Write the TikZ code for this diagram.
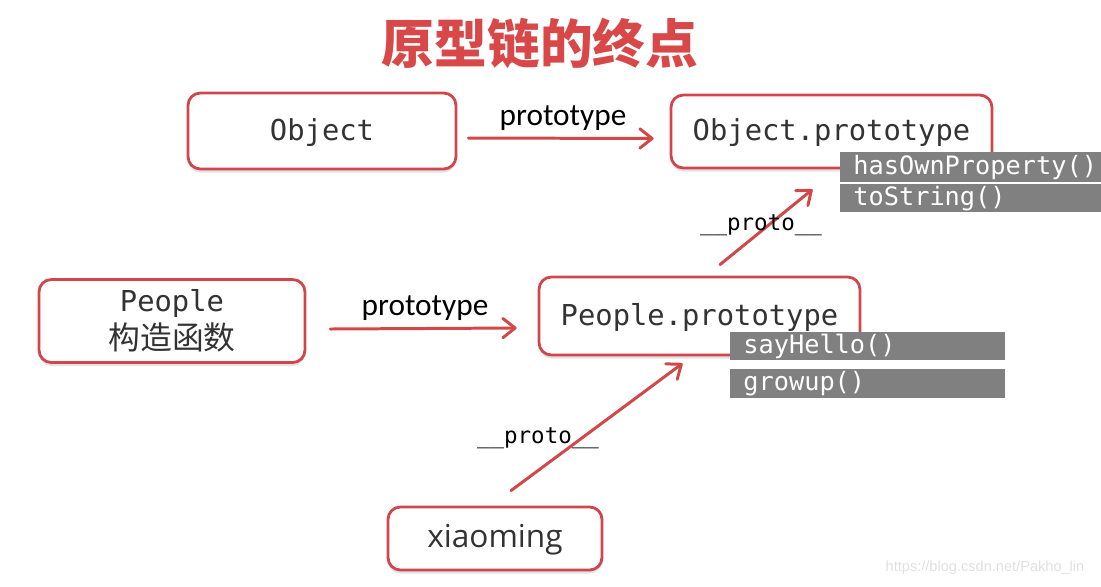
\documentclass[tikz,border=0pt]{standalone}
\usepackage{fontspec}
\setmainfont{Open Sans}
\newfontfamily\monofont{DejaVu Sans Mono}
\newfontfamily\cjkfont{Noto Sans CJK SC}
\newfontfamily\labfont{Carlito}
\newfontfamily\wmfont{Liberation Sans}
\usetikzlibrary{positioning, calc, arrows.meta, shadows}
\definecolor{boxred}{RGB}{208,70,76}
\definecolor{arrred}{RGB}{210,72,72}
\definecolor{titlered}{RGB}{217,72,72}
\definecolor{bargray}{RGB}{128,128,128}
\definecolor{txtgray}{RGB}{51,51,51}

\begin{document}
\begin{tikzpicture}[x=0.02cm, y=-0.02cm,
    box/.style={draw=boxred, line width=1.6pt, rounded corners=7pt, fill=white,
        drop shadow={opacity=0.22, shadow xshift=0pt, shadow yshift=-2pt},
        text=txtgray, align=center, font=\monofont\fontsize{16.4}{21.5}\selectfont},
    oneline/.style={text height=1.3em, text depth=0.25em},
    bar/.style={fill=bargray, text=white, anchor=north west, inner xsep=0.26cm, inner ysep=0pt,
        align=left, font=\monofont\fontsize{14.4}{16}\selectfont},
    arr/.style={draw=arrred, line width=1.7pt, line cap=round,
        -{Straight Barb[length=7pt, width=11pt, line cap=round, line join=round]}},
    lbl/.style={font=\labfont\fontsize{17.8}{20}\selectfont},
    plbl/.style={font=\monofont\fontsize{12.8}{14}\selectfont}]
    \useasboundingbox (0,0) rectangle (1101,586);

    \node[text=titlered, font=\cjkfont\bfseries\fontsize{30}{34}\selectfont] (title) at (540,43) {原型链的终点};

    \node[box, oneline, minimum width=5.36cm, minimum height=1.52cm] (obj) at (322,131) {Object};
    \node[box, oneline, minimum width=6.42cm, minimum height=1.46cm] (objp) at (831.5,131.5) {Object.prototype};
    \node[box, minimum width=5.32cm, minimum height=1.66cm] (ppl) at (172,321) {People\\{\cjkfont\fontsize{18.1}{21.5}\selectfont 构造函数}};
    \node[box, oneline, minimum width=6.42cm, minimum height=1.56cm] (pp) at (699.5,316) {People.prototype};
    \node[box, oneline, minimum width=4.28cm, minimum height=1.26cm, font=\fontsize{18}{20}\selectfont] (xm) at (495,538.5) {xiaoming};

    \node[bar, text width=4.7cm, minimum height=0.6cm] (own) at (840,152) {hasOwnProperty()};
    \node[bar, text width=4.7cm, minimum height=0.56cm] (tostr) at (840,184) {toString()};
    \node[bar, text width=4.98cm, minimum height=0.56cm] (hello) at (730,332) {sayHello()};
    \node[bar, text width=4.98cm, minimum height=0.58cm] (grow) at (730,369) {growup()};

    \draw[arr] ([shift={(11,7)}]obj.east) -- ([shift={(-16,7)}]objp.west);
    \draw[arr] ([shift={(24,8)}]ppl.east) -- ([shift={(-21,12)}]pp.west);
    \draw[arr] ([shift={(20.5,-11)}]pp.north) -- ([shift={(-19,20)}]objp.south);
    \draw[arr] ([shift={(16,-15)}]xm.north) -- ([shift={(-17,7)}]pp.south);

    \node[lbl] (l1) at (563,118) {prototype};
    \node[lbl] (l2) at (425,308) {prototype};
    \node[plbl] (l3) at (761,225) {\_\_proto\_\_};
    \node[plbl] (l4) at (538,438) {\_\_proto\_\_};

    \node[text=black!12, font=\wmfont\fontsize{8.3}{10}\selectfont] (wm) at (985,568) {https://blog.csdn.net/Pakho\_lin};
\end{tikzpicture}
\end{document}
